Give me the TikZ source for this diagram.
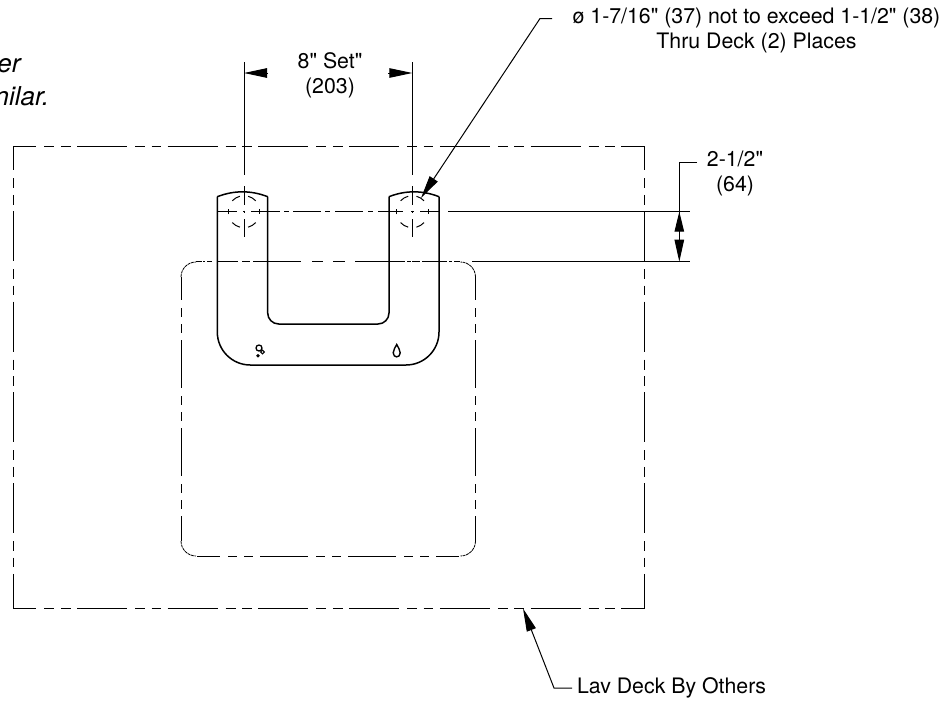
\documentclass[tikz,border=0pt]{standalone}
\usepackage{fontspec}
\setmainfont{TeX Gyre Heros}[Ligatures=TeXOff]
\usetikzlibrary{arrows.meta}
\tikzset{
  lbl/.style={inner sep=0pt,outer sep=0pt,align=center,font=\fontsize{21.3}{25.5}\selectfont},
  itl/.style={inner sep=0pt,outer sep=0pt,anchor=base east,font=\fontsize{26}{30}\selectfont\itshape},
  ol/.style={line width=1.5pt,line join=round},
  thn/.style={line width=1pt},
  dimn/.style={line width=1pt},
  outerh/.style={line width=1pt,dash pattern=on 50pt off 8pt on 10pt off 6.5pt on 9.7pt off 6.5pt,dash phase=26.7pt},
  outerv/.style={line width=1pt,dash pattern=on 50pt off 8pt on 10pt off 6.5pt on 9.7pt off 6.5pt,dash phase=25.7pt},
  innerd/.style={line width=1pt,dash pattern=on 48pt off 8pt on 9pt off 7pt on 9pt off 7pt,dash phase=25pt},
  corner/.style={line width=0.8pt,dash pattern=on 3pt off 0.7pt},
  tip/.style={-{Triangle[length=23pt,width=9.5pt]}},
}
\begin{document}
\begin{tikzpicture}[x=1pt,y=-1pt]
\useasboundingbox (0,0) rectangle (952,704);
\fill[white] (0,0) rectangle (952,704);
% outer deck
\draw[outerh] (13,146) -- (644,146);
\draw[outerh] (13,608.5) -- (644,608.5);
\draw[outerv] (13,146) -- (13,608.5);
\draw[outerv] (644,146) -- (644,608.5);
% inner opening
\draw[innerd] (197,556) -- (459,556);
\draw[innerd] (181,277) -- (181,541);
\draw[innerd] (475.5,277) -- (475.5,541);
\draw[corner] (181,541) arc[start angle=180,end angle=90,radius=15];
\draw[corner] (475.5,541) arc[start angle=0,end angle=90,radius=15];
\draw[corner] (181,277) arc[start angle=180,end angle=270,radius=15];
\draw[corner] (475.5,277) arc[start angle=0,end angle=-90,radius=15];
\foreach \a/\b in {196/202,203/205,207/212,217/238,242/250,253/301,312/323,333/345,355/405,407/411,412/420,422/447,449/452,454/460}
  \draw[thn] (\a,261.7) -- (\b,261.7);
% faucet body
\draw[ol,rounded corners=33pt] (217.3,196.7) -- (217.3,365) -- (439,365) -- (439,196.7);
\draw[ol,rounded corners=11pt] (267.7,196.7) -- (267.7,324) -- (389,324) -- (389,196.7);
\draw[ol] (217.3,196.7) .. controls (234,190.2) and (251,190.2) .. (267.7,196.7);
\draw[ol] (389,196.7) .. controls (405.5,190.2) and (422.5,190.2) .. (439,196.7);
% centre line through the holes
\foreach \a/\b in {218/237,243/245,251/280,284/289,293/321,325/330,335/363,368/373,378/403,411/413.5,420/439}
  \draw[thn] (\a,211.7) -- (\b,211.7);
% holes
\foreach \c in {244,412.3}{
  \foreach \a/\b in {43/75,105/137,223/255,285/317,-10/10,170/190}
    \draw[thn] (\c,211.7) ++(\a:16) arc[start angle=\a,end angle=\b,radius=16];
  \draw[thn] (\c,62) -- (\c,175);
  \draw[thn] (\c,186) -- (\c,205);
  \draw[thn] (\c,210.5) -- (\c,213);
  \draw[thn] (\c,219) -- (\c,237);
}
% fan and drop symbols
\draw[line width=1.3pt] (259,348) circle[radius=3];
\draw[line width=1.1pt] (262.5,352) circle[radius=1.8];
\fill (258,355.7) circle[radius=1.8];
\draw[line width=1.4pt] (396.7,344.5) .. controls (395.5,347.5) and (393.2,349.5) .. (393.2,352.8) .. controls (393.2,358.2) and (400.2,358.2) .. (400.2,352.8) .. controls (400.2,349.5) and (397.9,347.5) .. (396.7,344.5) -- cycle;
% extension lines
\coordinate (extA1) at (448,211.7);
\coordinate (extA2) at (690,211.7);
\coordinate (extB1) at (472,261.7);
\coordinate (extB2) at (690,261.7);
\draw[dimn] (extA1) -- (extA2);
\draw[dimn] (extB1) -- (extB2);
% 8" set dimension
\node[lbl] (setlbl) at (330,75.5) {8" Set"\\(203)};
\coordinate (setL) at (244,73);
\coordinate (setLb) at (268,73);
\coordinate (setR) at (412.3,73);
\coordinate (setRb) at (388,73);
\draw[dimn,tip] (setLb) -- (setL);
\draw[dimn,tip] (setRb) -- (setR);
% 2-1/2 dimension
\node[lbl] (depth) at (735,173.5) {2-1/2"\\(64)};
\coordinate (dLead) at (697,162);
\coordinate (dCorner) at (679.3,162);
\coordinate (dBot) at (679.3,261.7);
\coordinate (dTop) at (679.3,211.7);
\coordinate (dMid) at (679.3,240);
\draw[dimn] (dLead) -- (dCorner) -- (dTop);
\draw[dimn,-{Triangle[length=20pt,width=9.5pt]}] (dMid) -- (dTop);
\draw[dimn,-{Triangle[length=22pt,width=9.5pt]}] (dTop) -- (dBot);
% hole note
\node[lbl] (holes) at (756.5,30.5) {ø 1-7/16" (37) not to exceed 1-1/2" (38)\\Thru Deck (2) Places};
\coordinate (hLead) at (552,18.5);
\coordinate (hCorner) at (540,18.5);
\coordinate (hTip) at (421,198);
\draw[dimn,tip] (hLead) -- (hCorner) -- (hTip);
% deck note
\node[lbl,anchor=west] (deck) at (577,688) {Lav Deck By Others};
\coordinate (lLead) at (572,688);
\coordinate (lCorner) at (554,688);
\coordinate (lTip) at (523,608.5);
\draw[dimn,tip] (lLead) -- (lCorner) -- (lTip);
% cut-off note at the left edge
\begin{scope}
\clip (0,0) rectangle (952,704);
\node[itl] (noteA) at (20.5,72.5) {er};
\node[itl] (noteB) at (49,105) {nilar.};
\end{scope}
\end{tikzpicture}
\end{document}
